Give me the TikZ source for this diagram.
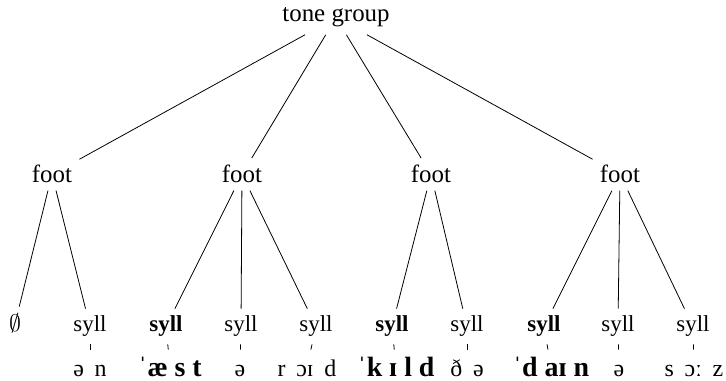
\documentclass[tikz,border=0pt]{standalone}
\usepackage{fontspec}
\setmainfont{Liberation Serif}
\usepackage{tikz}
\newcommand\widesp{\spaceskip=0.45em\relax}
\tikzset{lbl/.style={anchor=base, inner sep=3.5bp, font=\fontsize{12.5}{15}\selectfont},
 syl/.style={lbl, font=\fontsize{11.5}{14}\selectfont},
 phon/.style={anchor=base, inner sep=3.5bp, text height=10bp, font=\fontsize{12}{14}\selectfont\widesp},
 phonb/.style={phon, font=\fontsize{14}{16}\selectfont\bfseries},
 branch/.style={draw, thin},
 }

\begin{document}
\begin{tikzpicture}[x=0.5bp, y=-0.5bp]
        \useasboundingbox (0,0) rectangle (726,381);
        \node[lbl] (tg) at (336,22) {tone group};
        \foreach \x[count=\i] in {52, 242, 431, 620} {
            \node[lbl] (f\i) at (\x,183) {foot};
            \draw[branch] (tg) -- (f\i);
        }
        \foreach \x/\t/\f[count=\i] in {15/{$\emptyset$}/1, 90/syll/1, 166/{\textbf{syll}}/2, 241/syll/2, 316/syll/2,
                392/{\textbf{syll}}/3, 467/syll/3, 544/{\textbf{syll}}/4, 618/syll/4, 693/syll/4} {
            \node[syl] (s\i) at (\x,332) {\t};
            \draw[branch] (f\f) -- (s\i);
        }
        \foreach \x/\s/\st/\t in {90/2/phon/{ə n}, 170/3/phonb/{{\mdseries ˈ}æ s t}, 240/4/phon/ə, 307/5/phon/{r ɔɪ d},
                396/6/phonb/{{\mdseries ˈ}k ɪ l d}, 467/7/phon/{ð ə}, 551/8/phonb/{{\mdseries ˈ}d aɪ n}, 619/9/phon/ə, 694/10/phon/{s ɔː z}} {
            \node[\st] (p\s) at (\x,377) {\t};
            \draw[branch] (s\s) -- (p\s);
        }
    \end{tikzpicture}
\end{document}
